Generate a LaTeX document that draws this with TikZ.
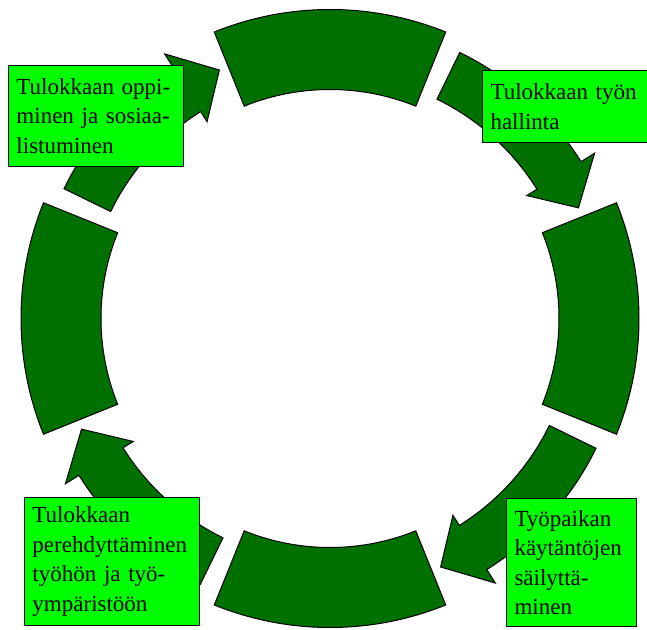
\documentclass[tikz,border=0pt]{standalone}
\usepackage{fontspec}
\setmainfont{Liberation Serif}
\usepackage{xcolor}
\definecolor{dgreen}{HTML}{007000}
\definecolor{lgreen}{HTML}{00FF00}
\usepackage{tikz}

\tikzset{
    seg/.style={draw=black, fill=dgreen, line width=1pt},
    lbl/.style={draw=black, fill=lgreen, line width=1pt, anchor=north west, align=left,
        inner xsep=8pt, font=\fontsize{23}{29.5}\selectfont}
}

\begin{document}
\begin{tikzpicture}[x=1pt, y=1pt]
        \useasboundingbox (-330,-310.5) rectangle (317,318.5);
        \coordinate (o) at (0,0);
        % ring segments
        \draw[seg] (68:229) arc[start angle=68, end angle=112, radius=229] -- (112:309) arc[start angle=112, end angle=68, radius=309] -- cycle;
        \draw[seg] (-22:229) arc[start angle=-22, end angle=22, radius=229] -- (22:309) arc[start angle=22, end angle=-22, radius=309] -- cycle;
        \draw[seg] (248:229) arc[start angle=248, end angle=292, radius=229] -- (292:309) arc[start angle=292, end angle=248, radius=309] -- cycle;
        \draw[seg] (158:229) arc[start angle=158, end angle=202, radius=229] -- (202:309) arc[start angle=202, end angle=158, radius=309] -- cycle;
        % arrows, clockwise
        \draw[seg] (154:296) arc[start angle=154, end angle=122, radius=296] -- (122:312) -- (114:272) -- (122:232) -- (122:244) arc[start angle=122, end angle=154, radius=244] -- cycle;
        \draw[seg] (64:296) arc[start angle=64, end angle=32, radius=296] -- (32:312) -- (24:272) -- (32:232) -- (32:244) arc[start angle=32, end angle=64, radius=244] -- cycle;
        \draw[seg] (-26:296) arc[start angle=-26, end angle=-58, radius=296] -- (-58:312) -- (-66:272) -- (-58:232) -- (-58:244) arc[start angle=-58, end angle=-26, radius=244] -- cycle;
        \draw[seg] (244:296) arc[start angle=244, end angle=212, radius=296] -- (212:312) -- (204:272) -- (212:232) -- (212:244) arc[start angle=212, end angle=244, radius=244] -- cycle;

        \node[lbl, text width=159pt, minimum height=101pt] (oppiminen) at (-322,253.5) {Tulokkaan oppi-\\minen ja sosiaa-\\listuminen};
        \node[lbl, text width=150pt, minimum height=72pt] (hallinta) at (152,248.5) {Tulokkaan työn\\hallinta};
        \node[lbl, text width=159pt, minimum height=128pt] (perehdytys) at (-306,-178.5) {Tulokkaan\\perehdyttäminen\\työhön ja työ-\\ympäristöön};
        \node[lbl, text width=114pt, minimum height=128pt] (kaytannot) at (176,-179.5) {Työpaikan\\käytäntöjen\\säilyttä-\\minen};
    \end{tikzpicture}
\end{document}
